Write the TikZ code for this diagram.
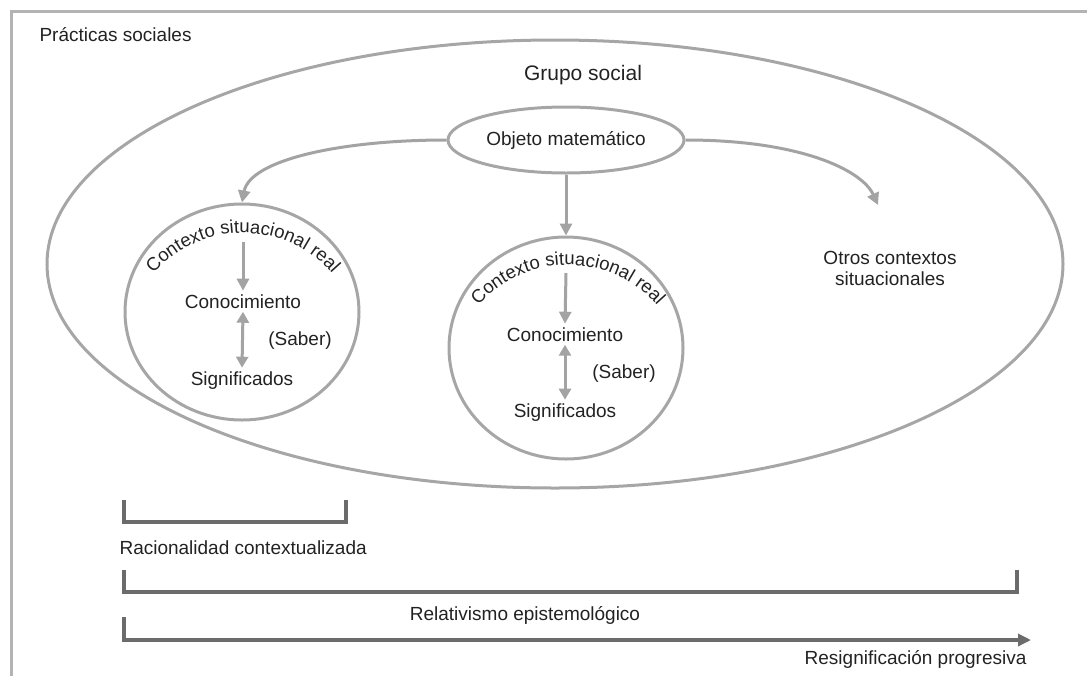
\documentclass[tikz,border=0pt]{standalone}
\usepackage{fontspec}
\setmainfont{Liberation Sans}
\usetikzlibrary{arrows.meta,positioning,shapes.geometric,decorations.text}
\definecolor{ovalgray}{HTML}{A6A6A6}
\definecolor{arrowgray}{HTML}{A3A3A3}
\definecolor{bargray}{HTML}{6B6B6B}
\definecolor{inkgray}{HTML}{222222}

\begin{document}
\begin{tikzpicture}[x=1pt,y=-1pt,>=Triangle, every node/.style={font=\fontsize{19}{21}\selectfont,text=inkgray}]
    \tikzset{oval/.style={ellipse,draw=ovalgray,line width=3pt,inner sep=0pt}}
    \tikzset{flow/.style={draw=arrowgray,line width=3pt,-{Triangle[length=12pt,width=12pt]}}}
    \tikzset{twoway/.style={draw=arrowgray,line width=3pt,{Triangle[length=11pt,width=12pt]}-{Triangle[length=11pt,width=12pt]}}}
    \tikzset{bar/.style={draw=bargray,line width=3.2pt}}
    \tikzset{curved/.style={decorate,decoration={text along path,text align=center,text={|\color{inkgray}\fontsize{18.5}{20}\selectfont|Contexto situacional real}}}}

    \useasboundingbox (0,0) rectangle (1087,675);

    % Outer frame (runs off the page)
    \draw[draw=ovalgray!85,line width=3pt] (11,680) -- (11,11) -- (1092,11);
    \node[anchor=base west] (practicas) at (36,41) {Prácticas sociales};

    % Social group and the object
    \node[oval,minimum width=1016,minimum height=448] (grupo) at (555,264) {};
    \node[anchor=base,font=\fontsize{21}{24}\selectfont] (grupoLbl) at (583,80) {Grupo social};
    \node[oval,minimum width=236,minimum height=66] (obj) at (566,140) {Objeto matemático};

    % Real contexts
    \node[oval,minimum width=234,minimum height=216] (ctxA) at (242,312) {};
    \node[oval,minimum width=234,minimum height=222] (ctxB) at (566,348) {};
    \path[curved] (145.5,283.7) arc[start angle=-145,end angle=-35,radius=119];
    \path[curved] (470.5,315.7) arc[start angle=-145,end angle=-35,radius=119];

    % Arrows from the object
    \coordinate (otrosTip) at (878,205);
    \draw[flow] (obj.west) .. controls (340,140) and (250,160) .. (ctxA.north);
    \draw[flow] (obj.south) -- (ctxB.north);
    \draw[flow] (obj.east) .. controls (800,140) and (862,170) .. (otrosTip);
    \node[align=center] (otros) at (890,268) {Otros contextos\\situacionales};

    % Inside left context
    \coordinate (topA) at (243,242);
    \node[anchor=base] (conA) at (243,308) {Conocimiento};
    \node[anchor=base] (sabA) at (300,345) {(Saber)};
    \node[anchor=base] (sigA) at (242,385) {Significados};
    \draw[flow] (topA) -- (conA.north);
    \draw[twoway] (conA.south) -- (sigA.north);

    % Inside middle context
    \coordinate (topB) at (566,273);
    \node[anchor=base] (conB) at (565,341) {Conocimiento};
    \node[anchor=base] (sabB) at (624,378) {(Saber)};
    \node[anchor=base] (sigB) at (565,417) {Significados};
    \draw[flow] (topB) -- (conB.north);
    \draw[twoway] (conB.south) -- (sigB.north);

    % Brackets and progression
    \draw[bar] (124,500) -- (124,522) -- (346,522) -- (346,500);
    \node[anchor=base west] (racional) at (116,554) {Racionalidad contextualizada};
    \draw[bar] (124,570) -- (124,592) -- (1017,592) -- (1017,570);
    \node[anchor=base] (relativ) at (525,620) {Relativismo epistemológico};
    \draw[bar,-{Triangle[length=13pt,width=12pt]}] (124,617) -- (124,640) -- (1031,640);
    \node[anchor=base east] (resig) at (1030,664) {Resignificación progresiva};
\end{tikzpicture}
\end{document}
